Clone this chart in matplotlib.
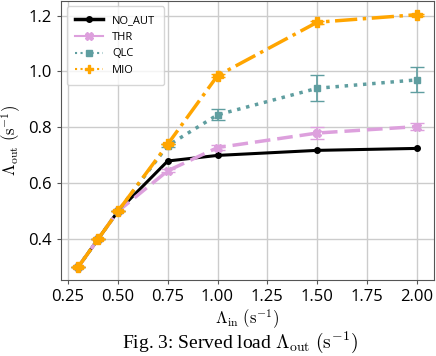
import numpy as np
import matplotlib
matplotlib.use('Agg')
import matplotlib.pyplot as plt
from matplotlib.lines import Line2D

plt.rcParams['font.family'] = ['Open Sans', 'DejaVu Sans']
plt.rcParams['mathtext.fontset'] = 'cm'

# Offered load (x) and served load per policy
lam_in = [0.3, 0.4, 0.5, 0.75, 1.0, 1.5, 2.0]
no_aut = [0.30, 0.40, 0.50, 0.68, 0.70, 0.718, 0.725]
thr = [0.30, 0.40, 0.50, 0.645, 0.728, 0.78, 0.803]
thr_err = [0.0, 0.0, 0.0, 0.005, 0.008, 0.02, 0.012]
qlc = [0.30, 0.40, 0.50, 0.735, 0.845, 0.94, 0.97]
qlc_err = [0.0, 0.0, 0.0, 0.005, 0.02, 0.047, 0.045]
mio = [0.30, 0.40, 0.50, 0.74, 0.985, 1.176, 1.203]
mio_err = [0.0, 0.0, 0.0, 0.0, 0.005, 0.006, 0.004]

labels = ['NO_AUT', 'THR', 'QLC', 'MIO']
colors = ['black', 'plum', 'cadetblue', 'orange']

fig = plt.figure(figsize=(4.36, 3.56), dpi=100)
ax = fig.add_axes([0.14, 0.2135, 0.855, 0.784])

ax.errorbar(lam_in, no_aut, color=colors[0], ls='-', lw=2.2, marker='o', ms=4, zorder=3)
ax.errorbar(lam_in, thr, yerr=thr_err, color=colors[1], ls='--', lw=2.5, dashes=(4.5, 2),
            marker='X', ms=6, capsize=5, elinewidth=1.2, zorder=4)
ax.errorbar(lam_in, qlc, yerr=qlc_err, color=colors[2], ls=':', lw=2.5,
            marker='s', ms=5, capsize=5, elinewidth=1.2, zorder=5)
ax.errorbar(lam_in, mio, yerr=mio_err, color=colors[3], ls='-.', lw=2.5,
            marker='P', ms=6.5, capsize=5, elinewidth=1.2, zorder=6)

ax.set_xticks([0.25, 0.5, 0.75, 1.0, 1.25, 1.5, 1.75, 2.0])
ax.set_yticks([0.4, 0.6, 0.8, 1.0, 1.2])
ax.tick_params(labelsize=12, color='#555555', length=3)
ax.grid(True, color='#cccccc', lw=1)
ax.set_axisbelow(True)
for s in ax.spines.values():
    s.set_color('#555555')

ax.set_xlabel(r'$\Lambda_{\rm in}\ (\rm s^{-1})$', fontsize=12, labelpad=2)
ax.set_ylabel(r'$\Lambda_{\rm out}\ (\rm s^{-1})$', fontsize=12, labelpad=4)

# legend handles: the original shows thin lines for the dashed series
handles = [
    Line2D([0], [0], color=colors[0], lw=2.5, marker='o', ms=4),
    Line2D([0], [0], color=colors[1], lw=1.5, marker='X', ms=6),
    Line2D([0], [0], color=colors[2], lw=1.5, ls=':', marker='s', ms=4.5),
    Line2D([0], [0], color=colors[3], lw=1.5, ls=':', marker='P', ms=6),
]
ax.legend(handles, labels, loc='upper left', fontsize=8, framealpha=0.8,
          borderpad=0.8, handlelength=2.5)

fig.text(0.55, 0.002, r'Fig. 3: Served load $\Lambda_{\rm out}$ $(\rm s^{-1})$',
         family='Liberation Serif', fontsize=14, ha='center', va='bottom')

fig.savefig('out.png', dpi=100)
